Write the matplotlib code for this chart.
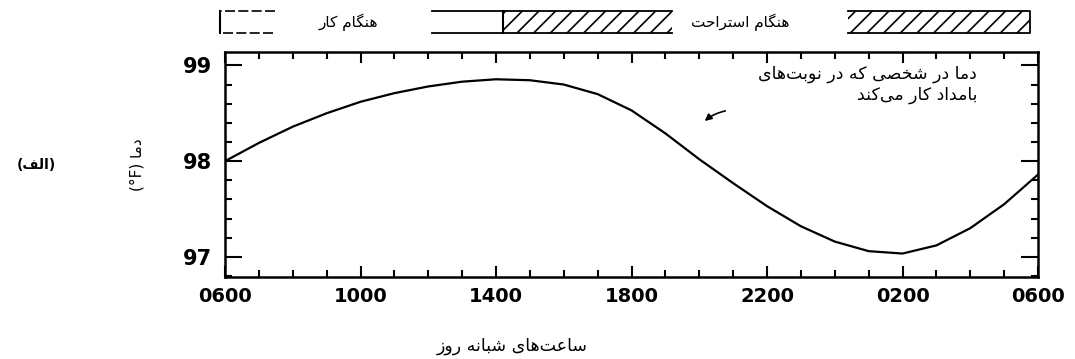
import matplotlib
matplotlib.use("Agg")
import matplotlib.pyplot as plt
from matplotlib.patches import Rectangle
from matplotlib.ticker import MultipleLocator

# hours after 0600 and oral temperature (°F) of a morning-shift worker
hours = list(range(25))
temps = [98.00, 98.19, 98.36, 98.50, 98.62, 98.71, 98.78, 98.83, 98.855,
         98.845, 98.80, 98.70, 98.53, 98.29, 98.02, 97.77, 97.53, 97.32,
         97.16, 97.06, 97.035, 97.12, 97.30, 97.55, 97.86]
tick_hours = [0, 4, 8, 12, 16, 20, 24]
tick_labels = ["0600", "1000", "1400", "1800", "2200", "0200", "0600"]
temp_ticks = [97, 98, 99]

# --- minimal Persian shaping (presentation forms) so RTL text renders joined ---
FORMS = {
    "\u0627": (0xFE8D, 0xFE8E), "\u062F": (0xFEA9, 0xFEAA), "\u0631": (0xFEAD, 0xFEAE),
    "\u0632": (0xFEAF, 0xFEB0), "\u0648": (0xFEED, 0xFEEE),
    "\u0628": (0xFE8F, 0xFE90, 0xFE91, 0xFE92), "\u062A": (0xFE95, 0xFE96, 0xFE97, 0xFE98),
    "\u062D": (0xFEA1, 0xFEA2, 0xFEA3, 0xFEA4), "\u062E": (0xFEA5, 0xFEA6, 0xFEA7, 0xFEA8),
    "\u0633": (0xFEB1, 0xFEB2, 0xFEB3, 0xFEB4), "\u0634": (0xFEB5, 0xFEB6, 0xFEB7, 0xFEB8),
    "\u0635": (0xFEB9, 0xFEBA, 0xFEBB, 0xFEBC), "\u0639": (0xFEC9, 0xFECA, 0xFECB, 0xFECC),
    "\u0641": (0xFED1, 0xFED2, 0xFED3, 0xFED4), "\u0644": (0xFEDD, 0xFEDE, 0xFEDF, 0xFEE0),
    "\u0645": (0xFEE1, 0xFEE2, 0xFEE3, 0xFEE4), "\u0646": (0xFEE5, 0xFEE6, 0xFEE7, 0xFEE8),
    "\u0647": (0xFEE9, 0xFEEA, 0xFEEB, 0xFEEC), "\u06A9": (0xFB8E, 0xFB8F, 0xFB90, 0xFB91),
    "\u06AF": (0xFB92, 0xFB93, 0xFB94, 0xFB95), "\u06CC": (0xFBFC, 0xFBFD, 0xFBFE, 0xFBFF),
}
MIRROR = {"(": ")", ")": "("}


def fa(text):
    out = []
    for i, ch in enumerate(text):
        if ch == "\u200c":
            continue
        if ch not in FORMS:
            out.append(MIRROR.get(ch, ch))
            continue
        prev = text[i - 1] if i > 0 else ""
        nxt = text[i + 1] if i + 1 < len(text) else ""
        forms = FORMS[ch]
        jp = prev in FORMS and len(FORMS[prev]) == 4
        jn = len(forms) == 4 and nxt in FORMS
        if jp and jn:
            g = forms[3]
        elif jp:
            g = forms[1]
        elif jn:
            g = forms[2]
        else:
            g = forms[0]
        out.append(chr(g))
    return "".join(reversed(out))


plt.rcParams["font.family"] = ["DejaVu Sans"]
plt.rcParams["hatch.linewidth"] = 1.2

fig = plt.figure(figsize=(10.75, 3.59), dpi=100)
ax = fig.add_axes([0.2093, 0.2284, 0.7563, 0.6268])

ax.plot(hours, temps, color="black", lw=1.6, solid_joinstyle="round")
ax.set_xlim(0, 24)
ax.set_ylim(96.79, 99.14)

ax.set_xticks(tick_hours)
ax.set_xticklabels(tick_labels, fontsize=14, fontweight="bold")
ax.xaxis.set_minor_locator(MultipleLocator(1))
ax.set_yticks(temp_ticks)
ax.set_yticklabels([str(t) for t in temp_ticks], fontsize=15, fontweight="bold")
ax.yaxis.set_minor_locator(MultipleLocator(0.2))
ax.tick_params(which="both", direction="in", top=True, right=True, width=1.5)
ax.tick_params(axis="x", which="major", length=8, pad=7)
ax.tick_params(axis="y", which="major", length=12, pad=9)
ax.tick_params(which="minor", length=5)
for s in ax.spines.values():
    s.set_linewidth(1.8)

# note and arrow pointing at the curve
ax.text(22.2, 98.80, fa("دما در شخصی که در نوبت\u200cهای") + "\n" + fa("بامداد کار می\u200cکند"),
        ha="right", va="center", fontsize=12.5, linespacing=1.15)
ax.annotate("", xy=(14.1, 98.40), xytext=(14.85, 98.53),
            arrowprops=dict(arrowstyle="-|>", color="black", lw=1.2,
                            connectionstyle="arc3,rad=0.15", mutation_scale=10))

# overlay in pixel units for the header key and outer labels
ov = fig.add_axes([0, 0, 1, 1], facecolor="none")
ov.set_xlim(0, 1075)
ov.set_ylim(359, 0)
ov.axis("off")

# work-time key: open box with dashed edges
ov.plot([275, 220, 220, 275], [11, 11, 33, 33], color="black", lw=1.2, ls=(0, (6, 2)))
ov.plot([220, 220], [11, 33], color="black", lw=1.5)
ov.text(348, 22, fa("هنگام کار"), ha="center", va="center", fontsize=11)

# day band: work part then rest part
ov.plot([432, 672], [11, 11], color="black", lw=1.3)
ov.plot([432, 672], [33, 33], color="black", lw=1.3)
ov.plot([503, 503], [11, 33], color="black", lw=1.5)
ov.add_patch(Rectangle((503, 11), 169, 22, facecolor="white", edgecolor="black",
                       hatch="//", lw=0))
ov.text(740, 22, fa("هنگام استراحت"), ha="center", va="center", fontsize=11)

# rest-time key
ov.add_patch(Rectangle((848, 11), 182, 22, facecolor="white", edgecolor="black",
                       hatch="//", lw=0))
ov.plot([848, 1030, 1030, 848], [11, 11, 33, 33], color="black", lw=1.3)

ov.text(36, 165, fa("(الف)"), ha="center", va="center", fontsize=10, fontweight="bold")
ov.text(137, 165, "(°F) " + fa("دما"), ha="center", va="center", rotation=90, fontsize=11)
ov.text(512, 346, fa("ساعت\u200cهای شبانه روز"), ha="center", va="center", fontsize=12.5)

fig.savefig("out.png", dpi=100)
